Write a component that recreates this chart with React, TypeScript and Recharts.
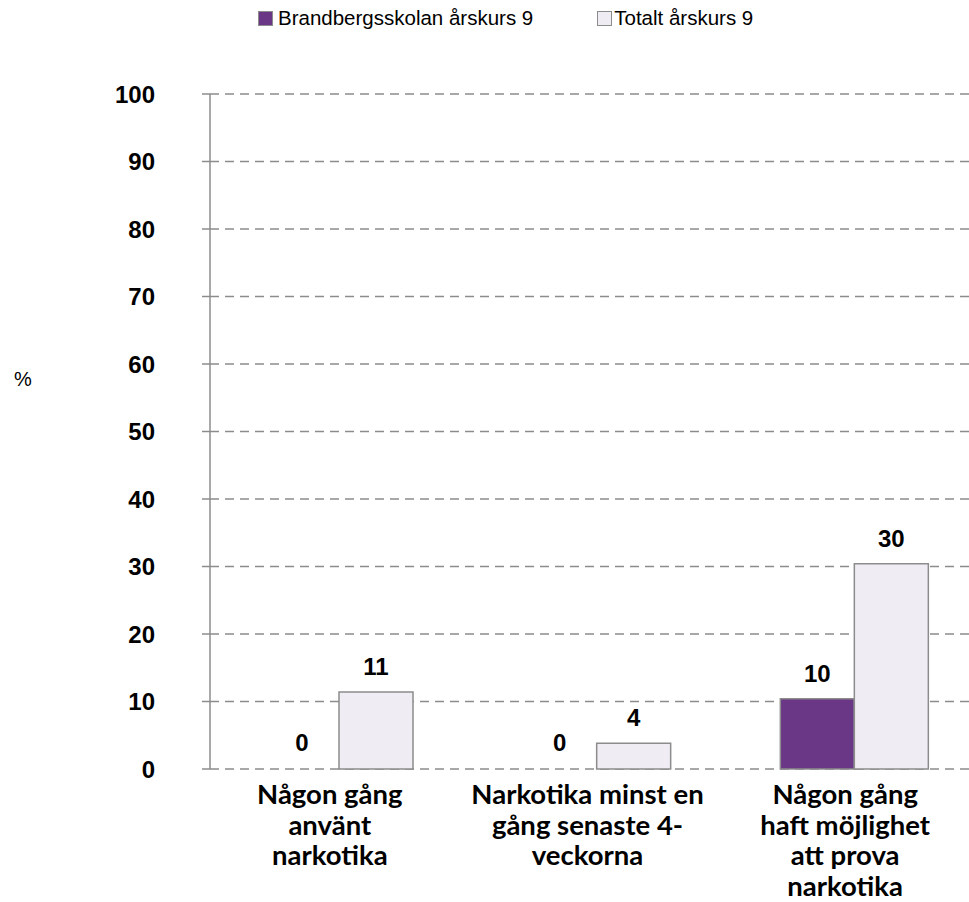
import { Bar, BarChart, CartesianGrid, LabelList, Rectangle, XAxis, YAxis } from "recharts";

const categories = [
  ["Någon gång", "använt", "narkotika"],
  ["Narkotika minst en", "gång senaste 4-", "veckorna"],
  ["Någon gång", "haft möjlighet", "att prova", "narkotika"],
];
const school = [0, 0, 10.4];
const total = [11.4, 3.8, 30.4];
const yTicks = [0, 10, 20, 30, 40, 50, 60, 70, 80, 90, 100];

const PURPLE = "#6a3686";
const LIGHT = "#efecf4";
const GREY = "#8c8c8c";
const ARIAL = "Arial, 'Liberation Sans', sans-serif";

const data = categories.map((lines, i) => ({
  name: lines.join(" "),
  lines,
  school: school[i],
  total: total[i],
}));

function CategoryTick(props: any) {
  const { x, y, payload } = props;
  const lines: string[] = data[payload.index]?.lines ?? [];
  const cx = Number(x) - 9;
  return (
    <text
      x={cx}
      y={y}
      textAnchor="middle"
      fill="#000"
      fontFamily="Lato, sans-serif"
      fontWeight={700}
      fontSize={27.5}
    >
      {lines.map((l, i) => (
        <tspan key={i} x={cx} dy={i === 0 ? 35 : 30.5}>
          {l}
        </tspan>
      ))}
    </text>
  );
}

function ValueLabel(props: any) {
  const { x, y, width, value } = props;
  return (
    <text
      x={Number(x) + Number(width) / 2}
      y={Number(y) - 17}
      textAnchor="middle"
      fill="#000"
      fontFamily={ARIAL}
      fontWeight={700}
      fontSize={24}
    >
      {Math.round(Number(value))}
    </text>
  );
}

// zero values get a 1px placeholder bar so the label is still drawn; don't paint it
function BarShape(props: any) {
  if (Math.abs(Number(props.height)) < 2) return <g />;
  return <Rectangle {...props} />;
}

export default function App() {
  return (
    <div
      style={{
        position: "absolute",
        left: 0,
        top: 0,
        width: 969,
        height: 902,
        overflow: "hidden",
        background: "#fff",
        fontFamily: ARIAL,
      }}
    >
      <div style={{ position: "absolute", left: 258, top: 6, display: "flex", alignItems: "center", fontSize: 20.5, color: "#000" }}>
        <span style={{ width: 13, height: 13, background: PURPLE, border: `1px solid ${GREY}`, marginRight: 5 }} />
        <span>Brandbergsskolan årskurs 9</span>
        <span style={{ width: 13, height: 13, background: LIGHT, border: `1px solid ${GREY}`, marginLeft: 64, marginRight: 2 }} />
        <span>Totalt årskurs 9</span>
      </div>
      <div style={{ position: "absolute", left: 14, top: 368, fontSize: 20, color: "#000" }}>%</div>
      <BarChart
        width={983}
        height={902}
        data={data}
        margin={{ top: 94, right: 0, left: 0, bottom: 0 }}
        barCategoryGap={55}
        barGap={0}
      >
        <CartesianGrid vertical={false} stroke={GREY} strokeWidth={1.5} strokeDasharray="9 6" />
        <XAxis
          dataKey="name"
          height={133}
          axisLine={false}
          tickLine={false}
          tickSize={0}
          tickMargin={0}
          interval={0}
          tick={<CategoryTick />}
        />
        <YAxis
          width={210}
          domain={[0, 100]}
          ticks={yTicks}
          interval={0}
          axisLine={{ stroke: GREY, strokeWidth: 1.5 }}
          tickLine={{ stroke: GREY, strokeWidth: 1.5 }}
          tickSize={8}
          tickMargin={47}
          tick={{ fill: "#000", fontSize: 24, fontWeight: 700, fontFamily: ARIAL }}
        />
        <Bar
          dataKey="school"
          fill={PURPLE}
          stroke={GREY}
          strokeWidth={1.5}
          minPointSize={1}
          shape={<BarShape />}
          isAnimationActive={false}
        >
          <LabelList dataKey="school" content={<ValueLabel />} />
        </Bar>
        <Bar
          dataKey="total"
          fill={LIGHT}
          stroke={GREY}
          strokeWidth={1.5}
          minPointSize={1}
          shape={<BarShape />}
          isAnimationActive={false}
        >
          <LabelList dataKey="total" content={<ValueLabel />} />
        </Bar>
      </BarChart>
    </div>
  );
}
